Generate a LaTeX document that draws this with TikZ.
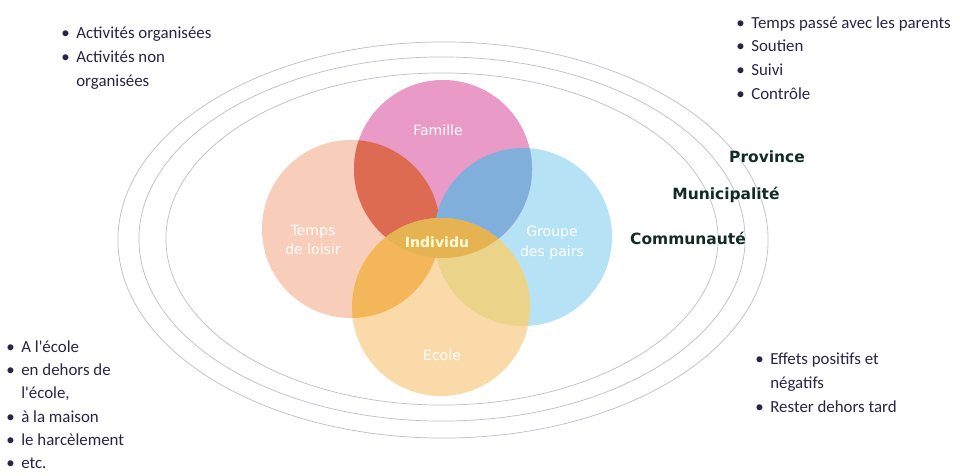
\documentclass[tikz,border=0pt]{standalone}
\usepackage{fontspec}
\setmainfont{Carlito}
\newfontfamily\verd{DejaVu Sans}
\usepackage{tikz}

\definecolor{famille}{HTML}{E99AC6}
\definecolor{loisir}{HTML}{F8CDB9}
\definecolor{pairs}{HTML}{B5E2F4}
\definecolor{ecole}{HTML}{FBDAA9}
\definecolor{famloi}{HTML}{DD6B52}
\definecolor{fampai}{HTML}{80AFDB}
\definecolor{ecoloi}{HTML}{F3B75A}
\definecolor{ecopai}{HTML}{ECD38A}
\definecolor{centre}{HTML}{E6B352}
\definecolor{ringgray}{HTML}{BDBDCB}
\definecolor{texte}{HTML}{2A2545}
\definecolor{niveau}{HTML}{122B27}

\newcommand{\puce}{\makebox[10.7pt][l]{\textbullet}}
\newcommand{\retrait}{\hspace*{10.7pt}}
\newcommand{\rayon}{2.225cm}

\begin{document}
\begin{tikzpicture}[x=0.025cm, y=-0.025cm]
    % 定义样式
    \tikzstyle{anneau} = [draw=ringgray, line width=0.5pt]
    \tikzstyle{etiq} = [font=\verd\fontsize{10}{14}\selectfont, text=white, align=center]
    \tikzstyle{niv} = [font=\verd\bfseries\fontsize{11}{13}\selectfont, text=niveau]
    \tikzstyle{liste} = [font=\fontsize{12}{17}\selectfont, text=texte, align=left, anchor=north west, inner sep=0pt]

    \useasboundingbox (0,0) rectangle (960,475);
    \fill [white] (0,0) rectangle (960,475);

    % 椭圆
    \draw [anneau] (442,239) ellipse [x radius=6.9cm, y radius=4.15cm];
    \draw [anneau] (442,239) ellipse [x radius=7.575cm, y radius=4.55cm];
    \draw [anneau] (443,240) ellipse [x radius=8.125cm, y radius=4.95cm];

    % 圆
    \coordinate (fam) at (443,169);
    \coordinate (loi) at (351,229);
    \coordinate (pai) at (523,237);
    \coordinate (eco) at (441,307);

    \fill [loisir] (loi) circle [radius=\rayon];
    \fill [pairs] (pai) circle [radius=\rayon];
    \fill [famille] (fam) circle [radius=\rayon];
    \fill [ecole] (eco) circle [radius=\rayon];

    % 重叠区域
    \begin{scope}
        \clip (fam) circle [radius=\rayon];
        \fill [famloi] (loi) circle [radius=\rayon];
        \fill [fampai] (pai) circle [radius=\rayon];
    \end{scope}
    \begin{scope}
        \clip (eco) circle [radius=\rayon];
        \fill [ecoloi] (loi) circle [radius=\rayon];
        \fill [ecopai] (pai) circle [radius=\rayon];
        \fill [centre] (fam) circle [radius=\rayon];
    \end{scope}

    % 圆内文字
    \node (tfam) [etiq] at (438,130) {Famille};
    \node (tloi) [etiq] at (313,240) {Temps\\de loisir};
    \node (tpai) [etiq] at (552,243) {Groupe\\des pairs};
    \node (teco) [etiq] at (442,355) {Ecole};
    \node (tind) [etiq, font=\verd\bfseries\fontsize{10}{12}\selectfont, text=white!85!yellow] at (437,242) {Individu};

    % 层次
    \node (prov) [niv] at (767,157) {Province};
    \node (muni) [niv] at (726,195) {Municipalité};
    \node (comm) [niv] at (688,238) {Communauté};

    % 列表
    \node (lloi) [liste] at (61,27) {\puce Activités organisées\\ \puce Activités non\\ \retrait organisées};
    \node (lfam) [liste] at (736,16) {\puce Temps passé avec les parents\\ \puce Soutien\\ \puce Suivi\\ \puce Contrôle};
    \node (leco) [liste, font=\fontsize{12}{16.6}\selectfont] at (6,340) {\puce A l\textquotesingle école\\ \puce en dehors de\\ \retrait l\textquotesingle école,\\ \puce à la maison\\ \puce le harcèlement\\ \puce etc.};
    \node (lpai) [liste] at (755,353) {\puce Effets positifs et\\ \retrait négatifs\\ \puce Rester dehors tard};
\end{tikzpicture}
\end{document}
